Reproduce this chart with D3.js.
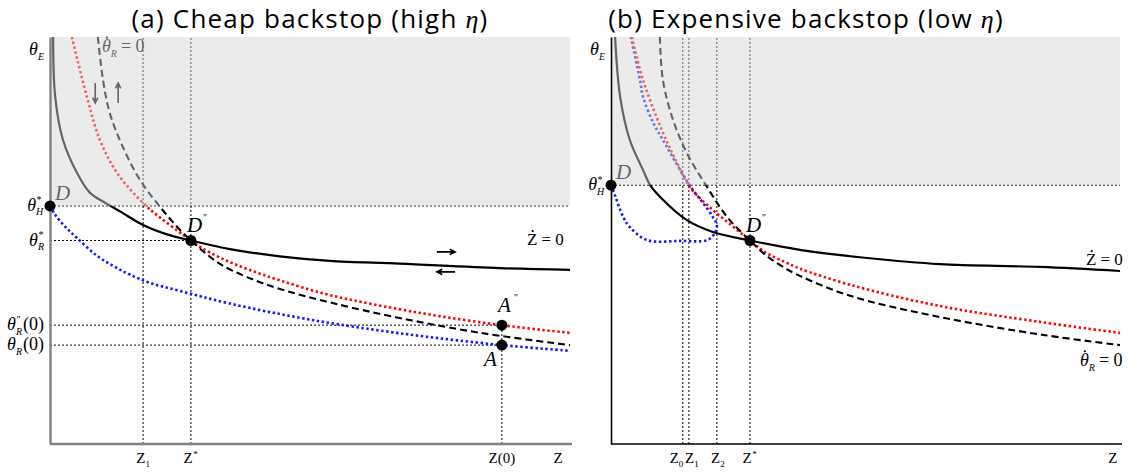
<!DOCTYPE html>
<html>
<head>
<meta charset="utf-8">
<script src="https://cdn.jsdelivr.net/npm/d3@7/dist/d3.min.js"></script>
<style>
  body { margin: 0; background: #fff; }
</style>
</head>
<body>
<svg id="chart"></svg>
<script>
// both panels use Z on 0-100 and theta on 0-100 (arbitrary units)
var SERIF = "Liberation Serif";

// ---- panel (a): cheap backstop ----
var zdotA = [[0.6,100],[1.0,85.3],[2.5,74.7],[5.2,66.6],[7.7,61.7],[11.0,59.0],[13.8,56.9],
  [17.9,53.8],[22.5,51.5],[27.1,50],[34.6,47.9],[44.2,46.1],[53.8,45.0],[67.3,44.3],
  [86.5,43.2],[100,42.8]];
var redA = [[4.2,100],[7.1,85.3],[9.6,74.7],[12.9,66.6],[17.9,59.2],[21.2,55.6],[25.6,51.4],
  [27.1,50],[29.0,48.3],[33.0,45.6],[37.9,43.0],[44.2,40.2],[53.8,36.6],[71.2,32.2],[86.9,29.2],[100,27.3]];
var thetaDotA = [[9.2,100],[10.2,89.4],[11.5,81.3],[14.0,73.0],[17.3,64.9],[21.2,58.2],[25.0,52.6],
  [27.1,50],[29.5,47.3],[33.0,44.0],[37.9,41.0],[44.2,38.1],[53.8,34.8],[66.7,31.1],[83.3,27.2],[100,24.3]];
var blueA = [[0,58.5],[1.0,56.3],[3.0,53.3],[5.2,50.6],[9.0,46.3],[12.5,43.5],[15.4,41.6],[19.2,39.6],
  [25.0,37.6],[34.6,34.5],[49.4,30.7],[67.3,27.2],[86.9,24.3],[100,22.9]];

var thetaHA = 58.5, zStarA = 27.1, thetaStarA = 50;
var z1A = 17.9, z0A = 86.9, thetaR2A = 29.2, thetaR0A = 24.3, thetaEA = 96.8;

var yTicksA = [
  {v: thetaEA, base: "θ", sub: "E"},
  {v: thetaHA, base: "θ", sub: "H", sup: "*"},
  {v: thetaStarA, base: "θ", sub: "R", sup: "*"},
  {v: thetaR2A, base: "θ", sub: "R", sup: "″", tail: "(0)"},
  {v: thetaR0A, base: "θ", sub: "R", tail: "(0)"}
];
var xTicksA = [
  {v: z1A, base: "Z", sub: "1"},
  {v: zStarA, base: "Z", sup: "*"},
  {v: z0A, base: "Z(0)"},
  {v: 97.7, base: "Z"}
];
var pointsA = [
  {z: 0, t: thetaHA, name: "D", sup: "", gray: true},
  {z: zStarA, t: thetaStarA, name: "D", sup: "″"},
  {z: z0A, t: thetaR2A, name: "A", sup: "″"},
  {z: z0A, t: thetaR0A, name: "A", sup: ""}
];

// ---- panel (b): expensive backstop ----
var zdotB = [[0.8,100],[1.8,85.3],[3.7,74.7],[6.3,67.3],[7.7,63.6],[10.2,60.0],[14.9,55.0],
  [20.0,52.1],[27.3,50],[37.1,47.7],[50.3,45.7],[64.6,44.2],[84.3,43.5],[100,42.5]];
var redB = [[4.1,100],[6.3,89.4],[10.0,77.1],[13.0,69.0],[15.5,63.1],[20.0,57.5],[24.8,52.6],
  [27.3,50],[30.6,46.9],[34.2,44.7],[37.1,43.1],[47.0,39.1],[64.6,33.9],[84.3,30.0],[100,27.3]];
var thetaDotB = [[9.6,100],[10.2,89.4],[12.2,79.6],[14.9,71.5],[18.9,63.1],[22.8,55.8],[27.3,50],
  [30.6,46.2],[34.2,43.2],[37.1,41.3],[47.0,36.4],[64.6,31.2],[84.9,26.8],[100,24.3]];
var blueB = [[0,63.6],[0.4,62.4],[2.4,55.8],[3.7,53.3],[7.1,50.1],[13.6,49.9],[18.9,50.1],
  [20.4,51.8],[20.8,53.8],[20.0,55.8],[18.1,59.2],[16.1,62.4],[13.6,67.3],[10.2,74.7],
  [8.3,78.9],[6.3,85.3],[5.7,89.4],[3.9,100]];

var thetaHB = 63.6, zStarB = 27.3, thetaStarB = 50, thetaEB = 96.8;
var zTicksB = [14.1, 15.3, 20.8, zStarB];

var yTicksB = [
  {v: thetaEB, base: "θ", sub: "E"},
  {v: thetaHB, base: "θ", sub: "H", sup: "*"}
];
var xTicksB = [
  {v: 14.1, base: "Z", sub: "0"},
  {v: 15.3, base: "Z", sub: "1"},
  {v: 20.8, base: "Z", sub: "2"},
  {v: zStarB, base: "Z", sup: "*"},
  {v: 98.6, base: "Z"}
];
var pointsB = [
  {z: 0, t: thetaHB, name: "D", sup: "", gray: true},
  {z: zStarB, t: thetaStarB, name: "D", sup: "″"}
];

var svgWidth = 1133, svgHeight = 473;
var svg = d3.select("#chart").attr("width", svgWidth).attr("height", svgHeight)
  .attr("font-family", SERIF);

function serifText(sel) {
  return sel.append("text").attr("font-family", SERIF);
}

// math-ish label: base + sub/sup + tail, anchored at (x, y)
function mathLabel(g, x, y, spec, opt) {
  opt = opt || {};
  var fs = opt.size || 17, small = opt.small || 10;
  var lab = g.append("g");
  var b = serifText(lab).attr("font-size", fs)
    .attr("font-style", spec.base === "θ" ? "italic" : null).text(spec.base);
  var w = b.node().getComputedTextLength();
  var extra = 0;
  if (spec.sub) {
    var s = serifText(lab).attr("x", w).attr("y", fs * 0.25).attr("font-size", small)
      .attr("font-style", spec.base === "θ" ? "italic" : null).text(spec.sub);
    extra = Math.max(extra, s.node().getComputedTextLength());
  }
  if (spec.sup) {
    var p = serifText(lab).attr("x", w + 0.5).attr("y", -fs * 0.42).attr("font-size", small)
      .text(spec.sup);
    extra = Math.max(extra, p.node().getComputedTextLength());
  }
  if (spec.dot) {
    lab.append("circle").attr("cx", w * 0.55).attr("cy", -fs * 0.82).attr("r", 1.1).attr("fill", "#000");
  }
  if (spec.tail) {
    serifText(lab).attr("x", w + extra + 1 + (spec.gap || 0)).attr("font-size", fs).text(spec.tail);
  }
  var bb = lab.node().getBBox();
  var dx = x;
  if (opt.anchor === "end") dx = x - (bb.x + bb.width);
  else if (opt.anchor === "middle") dx = x - (bb.x + bb.width / 2);
  lab.attr("transform", "translate(" + dx + "," + y + ")");
  return lab;
}

function arrowPath(x0, y0, x1, y1) {
  var a = Math.atan2(y1 - y0, x1 - x0), h = 6;
  var p = "M" + x0 + "," + y0 + "L" + x1 + "," + y1;
  p += "M" + (x1 - h * Math.cos(a - 0.45)) + "," + (y1 - h * Math.sin(a - 0.45)) + "L" + x1 + "," + y1;
  p += "L" + (x1 - h * Math.cos(a + 0.45)) + "," + (y1 - h * Math.sin(a + 0.45));
  return p;
}

function drawPanel(cfg) {
  var x = d3.scaleLinear().domain([0, 100]).range([cfg.left, cfg.right]);
  var y = d3.scaleLinear().domain([0, 100]).range([444, 37]);
  var g = svg.append("g");

  var clipId = "clip" + cfg.id;
  svg.append("clipPath").attr("id", clipId).append("rect")
    .attr("x", x(0)).attr("y", y(100)).attr("width", x(100) - x(0) + 2).attr("height", y(0) - y(100));

  // dotted guide lines
  var guides = g.append("g").attr("stroke", "#000").attr("stroke-width", 1).attr("stroke-dasharray", "2,2");
  cfg.hGuides.forEach(function(h) {
    guides.append("line").attr("x1", x(h[1])).attr("x2", x(h[2])).attr("y1", y(h[0])).attr("y2", y(h[0]));
  });
  cfg.vGuides.forEach(function(v) {
    guides.append("line").attr("x1", x(v[0])).attr("x2", x(v[0])).attr("y1", y(v[1])).attr("y2", y(v[2]));
  });

  var line = d3.line().x(function(d) { return x(d[0]); }).y(function(d) { return y(d[1]); })
    .curve(d3.curveCatmullRom.alpha(0.5));
  var curves = g.append("g").attr("clip-path", "url(#" + clipId + ")").attr("fill", "none");

  curves.append("path").datum(cfg.blue).attr("stroke", "#1515ff").attr("stroke-width", 2.6)
    .attr("stroke-dasharray", "2.4,2.6").attr("d", line);
  curves.append("path").datum(cfg.red).attr("stroke", "#ff0000").attr("stroke-width", 2.6)
    .attr("stroke-dasharray", "2.4,2.6").attr("d", line);
  curves.append("path").datum(cfg.thetaDot).attr("stroke", "#000").attr("stroke-width", 2.1)
    .attr("stroke-dasharray", "7,4").attr("d", line);
  curves.append("path").datum(cfg.zdot).attr("stroke", "#000").attr("stroke-width", 2.2)
    .attr("d", line);

  // things that sit under the grey band
  (cfg.arrows || []).forEach(function(a) {
    g.append("path").attr("d", arrowPath(x(a[0]), y(a[1]), x(a[2]), y(a[3])))
      .attr("stroke", "#000").attr("stroke-width", 1.6).attr("fill", "none");
  });
  if (cfg.thetaLabelTop) {
    mathLabel(g, x(cfg.thetaLabelTop[0]), y(cfg.thetaLabelTop[1]),
      {base: "θ", sub: "R", dot: true, tail: "= 0", gap: 3}, {size: 18, small: 10});
  }
  cfg.points.forEach(function(p) {
    if (p.gray) {
      serifText(g).attr("x", x(p.z) + 5).attr("y", y(p.t) - 6).attr("font-size", 21)
        .attr("font-style", "italic").attr("fill", "#000").text(p.name);
    }
  });

  // grey band
  g.append("rect").attr("x", x(0) + 1).attr("y", y(100)).attr("width", x(100) - x(0) - 1)
    .attr("height", y(cfg.thetaH) - y(100)).attr("fill", "#d4d4d4").attr("fill-opacity", 0.47);

  // axes
  var xAxis = d3.axisBottom(x).tickValues([]).tickSize(0).tickSizeOuter(0);
  var yAxis = d3.axisLeft(y).tickValues([]).tickSize(0).tickSizeOuter(0);
  var gx = g.append("g").attr("transform", "translate(0," + y(0) + ")").call(xAxis);
  var gy = g.append("g").attr("transform", "translate(" + x(0) + ",0)").call(yAxis);
  [gx, gy].forEach(function(ax) {
    ax.select(".domain").attr("stroke", cfg.axisColor).attr("stroke-width", cfg.axisWidth);
  });
  gx.select(".domain").attr("d", "M" + x(0) + ",0H" + (x(100) + 2));

  cfg.yTicks.forEach(function(t) {
    mathLabel(g, x(0) - 6, y(t.v) + 5, t, {anchor: "end", size: 18, small: 10});
  });
  cfg.xTicks.forEach(function(t, i) {
    mathLabel(g, x(t.v) + (cfg.xNudge ? cfg.xNudge[i] : 0), 463, t,
      {anchor: "middle", size: 15, small: 9});
  });

  // points
  cfg.points.forEach(function(p) {
    g.append("circle").attr("cx", x(p.z)).attr("cy", y(p.t)).attr("r", 5.5).attr("fill", "#000");
    if (!p.gray) {
      var lx = x(p.z), ly = y(p.t);
      var off = p.name === "A" && !p.sup ? [-18, 21] : (p.name === "A" ? [-4, -13] : [-4, -9]);
      serifText(g).attr("x", lx + off[0]).attr("y", ly + off[1]).attr("font-size", 21)
        .attr("font-style", "italic").text(p.name);
      if (p.sup) {
        serifText(g).attr("x", lx + off[0] + 16).attr("y", ly + off[1] - 11)
          .attr("font-size", 10).text(p.sup);
      }
    }
  });

  // Z-dot label
  mathLabel(g, cfg.zdotLabel[0], cfg.zdotLabel[1], {base: "Z", dot: true, tail: "= 0", gap: 3},
    {size: 17, small: 10});
  if (cfg.thetaLabelRight) {
    mathLabel(g, cfg.thetaLabelRight[0], cfg.thetaLabelRight[1],
      {base: "θ", sub: "R", dot: true, tail: "= 0", gap: 3}, {size: 18, small: 10});
  }
  (cfg.frontArrows || []).forEach(function(a) {
    g.append("path").attr("d", arrowPath(x(a[0]), y(a[1]), x(a[2]), y(a[3])))
      .attr("stroke", "#000").attr("stroke-width", 1.6).attr("fill", "none");
  });

  // title
  var title = svg.append("text").attr("x", cfg.titleX).attr("y", 28).attr("text-anchor", "middle")
    .attr("font-size", 26).attr("font-family", "Open Sans")
    .style("letter-spacing", "1.2px");
  title.append("tspan").text(cfg.title);
  title.append("tspan").attr("font-family", SERIF).attr("font-style", "italic").text("η");
  title.append("tspan").text(")");
}

drawPanel({
  id: "a", left: 50, right: 570, thetaH: thetaHA,
  zdot: zdotA, red: redA, thetaDot: thetaDotA, blue: blueA,
  hGuides: [[thetaHA, 0, 100], [thetaStarA, 0, zStarA], [thetaR2A, 0, z0A], [thetaR0A, 0, z0A]],
  vGuides: [[z1A, 0, 100], [zStarA, 0, 100], [z0A, 0, thetaR2A]],
  yTicks: yTicksA, xTicks: xTicksA, points: pointsA,
  axisColor: "#808080", axisWidth: 2.4,
  arrows: [[8.7, 88.7, 8.7, 83.8], [13.1, 83.8, 13.1, 88.7]],
  frontArrows: [[74.4, 47.2, 77.9, 47.2], [77.9, 42.3, 74.4, 42.3]],
  thetaLabelTop: [10, 96.2],
  zdotLabel: [527, 245],
  title: "(a) Cheap backstop (high ", titleX: 310
});

drawPanel({
  id: "b", left: 611, right: 1120, thetaH: thetaHB,
  zdot: zdotB, red: redB, thetaDot: thetaDotB, blue: blueB,
  hGuides: [[thetaHB, 0, 100]],
  vGuides: zTicksB.map(function(z) { return [z, 0, 100]; }),
  yTicks: yTicksB, xTicks: xTicksB, points: pointsB,
  xNudge: [-6, 3, 1, 0, 0],
  axisColor: "#000", axisWidth: 1.6,
  zdotLabel: [1086, 265],
  thetaLabelRight: [1080, 366],
  title: "(b) Expensive backstop (low ", titleX: 806
});
</script>
</body>
</html>
